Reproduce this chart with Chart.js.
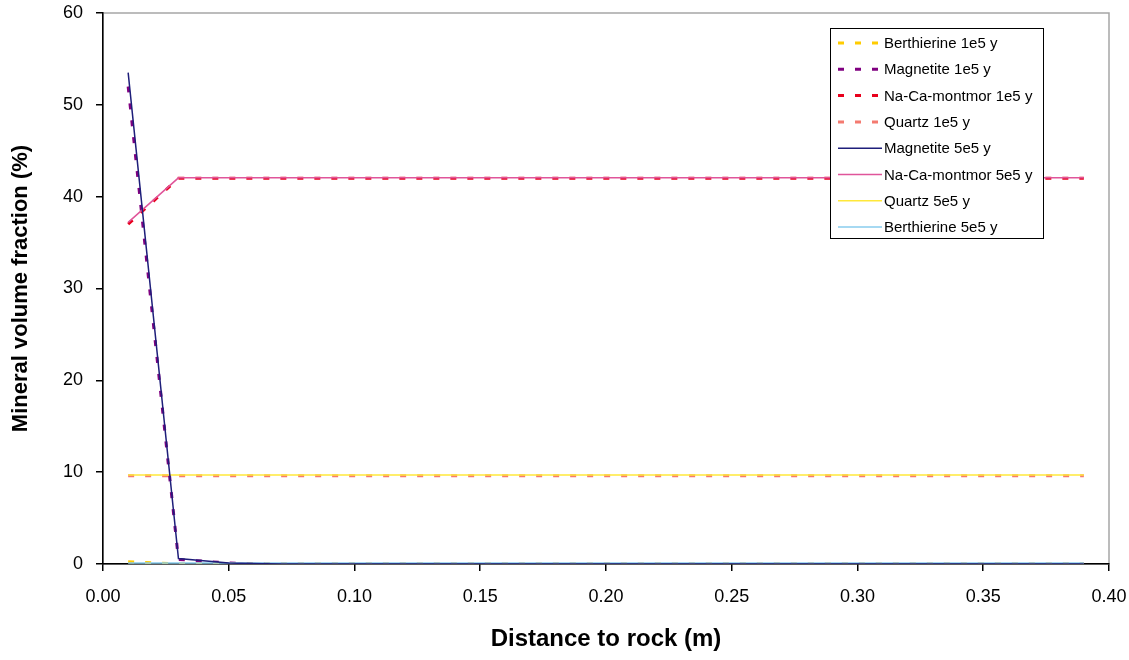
<!DOCTYPE html>
<html>
<head>
<meta charset="utf-8">
<script src="https://cdn.jsdelivr.net/npm/chart.js@4.4.1/dist/chart.umd.min.js"></script>
<style>
  html, body { margin: 0; padding: 0; background: #fff; }
  #wrap { width: 1129px; height: 660px; }
</style>
</head>
<body>
<div id="wrap"><canvas id="grafica"></canvas></div>
<script>
// distancia a la roca (m)
const distancia = [0.01, 0.03, 0.05, 0.07, 0.09, 0.11, 0.13, 0.15, 0.17, 0.19,
                   0.21, 0.23, 0.25, 0.27, 0.29, 0.31, 0.33, 0.35, 0.37, 0.39];

// fraccion de volumen (%) a 1e5 y
const berthierine1e5 = [0.25, 0, 0, 0, 0, 0, 0, 0, 0, 0, 0, 0, 0, 0, 0, 0, 0, 0, 0, 0];
const magnetite1e5 = [52, 0.5, 0.1, 0, 0, 0, 0, 0, 0, 0, 0, 0, 0, 0, 0, 0, 0, 0, 0, 0];
const montmor1e5 = [37, 42, 42, 42, 42, 42, 42, 42, 42, 42, 42, 42, 42, 42, 42, 42, 42, 42, 42, 42];
const quartz1e5 = [9.6, 9.6, 9.6, 9.6, 9.6, 9.6, 9.6, 9.6, 9.6, 9.6, 9.6, 9.6, 9.6, 9.6, 9.6, 9.6, 9.6, 9.6, 9.6, 9.6];

// fraccion de volumen (%) a 5e5 y
const magnetite5e5 = [53.5, 0.6, 0.1, 0, 0, 0, 0, 0, 0, 0, 0, 0, 0, 0, 0, 0, 0, 0, 0, 0];
const montmor5e5 = [37.2, 42.05, 42.05, 42.05, 42.05, 42.05, 42.05, 42.05, 42.05, 42.05, 42.05, 42.05, 42.05, 42.05, 42.05, 42.05, 42.05, 42.05, 42.05, 42.05];
const quartz5e5 = [9.7, 9.7, 9.7, 9.7, 9.7, 9.7, 9.7, 9.7, 9.7, 9.7, 9.7, 9.7, 9.7, 9.7, 9.7, 9.7, 9.7, 9.7, 9.7, 9.7];
const berthierine5e5 = [0.1, 0.1, 0.1, 0.1, 0.1, 0.1, 0.1, 0.1, 0.1, 0.1, 0.1, 0.1, 0.1, 0.1, 0.1, 0.1, 0.1, 0.1, 0.1, 0.1];

const ticksX = [0, 0.05, 0.10, 0.15, 0.20, 0.25, 0.30, 0.35, 0.40];
const ticksY = [0, 10, 20, 30, 40, 50, 60];

const fuente = "'Liberation Sans', Arial, sans-serif";

function puntos(valores) {
  return valores.map((v, i) => ({ x: distancia[i], y: v }));
}

function serie(label, valores, color, discontinua) {
  return {
    label: label,
    data: puntos(valores),
    borderColor: color,
    backgroundColor: color,
    borderWidth: discontinua ? 3 : 1.5,
    borderDash: discontinua ? [6, 11] : [],
    pointRadius: 0,
    pointHoverRadius: 0,
    tension: 0,
    fill: false,
    order: discontinua ? 1 : 0
  };
}

// borde gris del area del grafico
const bordeArea = {
  id: 'bordeArea',
  beforeDraw(chart) {
    const { ctx, chartArea: a } = chart;
    ctx.save();
    ctx.strokeStyle = '#a6a6a6';
    ctx.lineWidth = 1.5;
    ctx.strokeRect(a.left, a.top, a.right - a.left, a.bottom - a.top);
    ctx.restore();
  }
};

// leyenda dentro del area, con recuadro
const leyendaCaja = {
  id: 'leyendaCaja',
  afterDraw(chart) {
    const ctx = chart.ctx;
    const x0 = 830, y0 = 28, w = 213, h = 210;
    ctx.save();
    ctx.fillStyle = '#fff';
    ctx.fillRect(x0, y0, w, h);
    ctx.strokeStyle = '#000';
    ctx.lineWidth = 1;
    ctx.strokeRect(x0 + 0.5, y0 + 0.5, w, h);
    ctx.font = '15px ' + fuente;
    ctx.textBaseline = 'middle';
    chart.data.datasets.forEach((ds, i) => {
      const y = 43 + i * 26.3;
      ctx.strokeStyle = ds.borderColor;
      ctx.lineWidth = ds.borderWidth;
      ctx.setLineDash(ds.borderDash);
      ctx.beginPath();
      ctx.moveTo(838, y);
      ctx.lineTo(882, y);
      ctx.stroke();
      ctx.setLineDash([]);
      ctx.fillStyle = '#000';
      ctx.fillText(ds.label, 884, y + 1);
    });
    ctx.restore();
  }
};

new Chart(document.getElementById('grafica'), {
  type: 'line',
  data: {
    datasets: [
      serie('Berthierine 1e5 y', berthierine1e5, '#FFCC00', true),
      serie('Magnetite 1e5 y', magnetite1e5, '#800080', true),
      serie('Na-Ca-montmor 1e5 y', montmor1e5, '#E8001C', true),
      serie('Quartz 1e5 y', quartz1e5, '#F47A70', true),
      serie('Magnetite 5e5 y', magnetite5e5, '#1E1E7A', false),
      serie('Na-Ca-montmor 5e5 y', montmor5e5, '#E0559A', false),
      serie('Quartz 5e5 y', quartz5e5, '#FFE83A', false),
      serie('Berthierine 5e5 y', berthierine5e5, '#88CCEE', false)
    ]
  },
  options: {
    responsive: true,
    maintainAspectRatio: false,
    animation: false,
    layout: { padding: { top: 13, right: 20, left: 0, bottom: 0 } },
    plugins: {
      legend: { display: false },
      tooltip: { enabled: false }
    },
    scales: {
      x: {
        type: 'linear',
        min: 0,
        max: 0.4,
        afterFit: (s) => { s.height = 96; s.paddingLeft = 0; s.paddingRight = 0; },
        afterBuildTicks: (s) => { s.ticks = ticksX.map(v => ({ value: v })); },
        border: { color: '#000', width: 1.5 },
        grid: { drawOnChartArea: false, color: '#000', tickLength: 7, lineWidth: 1.5 },
        ticks: {
          color: '#000',
          font: { family: fuente, size: 18 },
          padding: 15,
          maxRotation: 0,
          callback: (v) => Number(v).toFixed(2)
        },
        title: {
          display: true,
          text: 'Distance to rock (m)',
          color: '#000',
          font: { family: fuente, size: 24, weight: 'bold' },
          padding: { top: 0, bottom: 6 }
        }
      },
      y: {
        min: 0,
        max: 60,
        afterFit: (s) => { s.width = 103; s.paddingTop = 0; s.paddingBottom = 0; },
        afterBuildTicks: (s) => { s.ticks = ticksY.map(v => ({ value: v })); },
        border: { color: '#000', width: 1.5 },
        grid: { drawOnChartArea: false, color: '#000', tickLength: 7, lineWidth: 1.5 },
        ticks: {
          color: '#000',
          font: { family: fuente, size: 18 },
          padding: 13
        },
        title: {
          display: true,
          text: 'Mineral volume fraction (%)',
          color: '#000',
          font: { family: fuente, size: 22, weight: 'bold' },
          padding: { top: 8, bottom: 0 }
        }
      }
    }
  },
  plugins: [bordeArea, leyendaCaja]
});
</script>
</body>
</html>
